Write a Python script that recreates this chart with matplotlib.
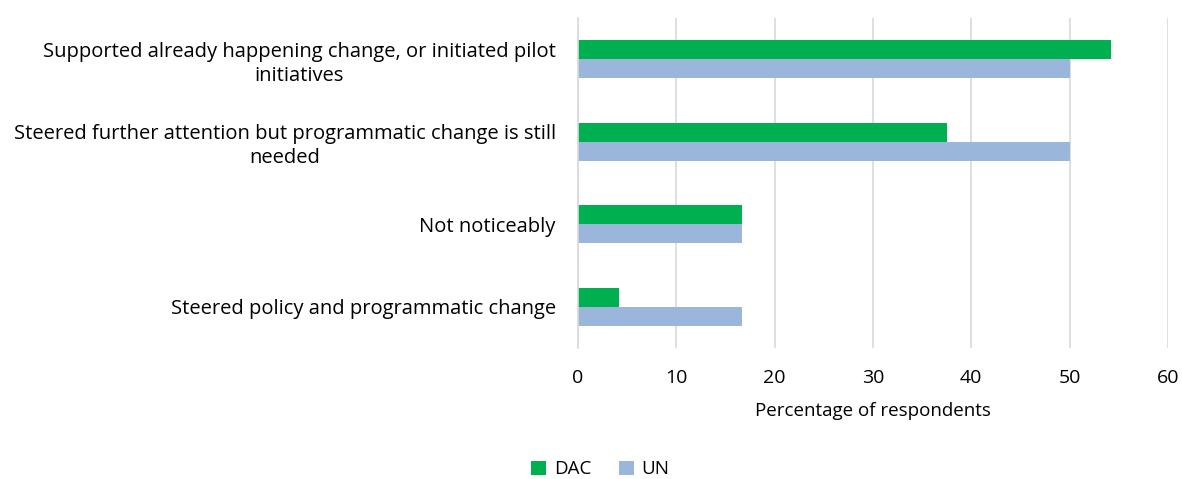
import matplotlib
matplotlib.use("Agg")
import matplotlib.pyplot as plt
import numpy as np

categories = [
    "Supported already happening change, or initiated pilot\ninitiatives",
    "Steered further attention but programmatic change is still\nneeded",
    "Not noticeably",
    "Steered policy and programmatic change",
]
dac = [54.2, 37.5, 16.7, 4.2]
un = [50.0, 50.0, 16.7, 16.7]
x_ticks = [0, 10, 20, 30, 40, 50, 60]

plt.rcParams["font.family"] = ["Open Sans", "DejaVu Sans"]

fig = plt.figure(figsize=(11.82, 4.79), dpi=100)
ax = fig.add_axes([0.489, 0.273, 0.499, 0.689])

n = len(categories)
pos = np.arange(n)
h = 0.23
green = "#00B050"
blue = "#9AB7DB"

ax.barh(pos - h / 2, dac, height=h, color=green, label="DAC", zorder=3)
ax.barh(pos + h / 2, un, height=h, color=blue, label="UN", zorder=3)

ax.set_ylim(n - 0.5, -0.5)
ax.set_xlim(0, 60)
ax.set_xticks(x_ticks)
ax.set_yticks(pos)
ax.set_yticklabels(categories, multialignment="center", fontsize=14.5,
                   linespacing=1.25)
ax.tick_params(axis="x", labelsize=14, length=0, pad=15)
ax.tick_params(axis="y", length=0, pad=16)
ax.grid(axis="x", color="#D9D9D9", linewidth=1.2, zorder=0)
for s in ["top", "right", "bottom"]:
    ax.spines[s].set_visible(False)
ax.spines["left"].set_color("#D9D9D9")
ax.spines["left"].set_linewidth(1.2)
ax.spines["left"].set_zorder(4)

ax.set_xlabel("Percentage of respondents", fontsize=13.5, labelpad=11)

fig.legend(loc="center", bbox_to_anchor=(0.508, 0.02), ncol=2, frameon=False,
           fontsize=13.5, handlelength=0.8, handleheight=0.8, columnspacing=1.5,
           handletextpad=0.4)

fig.savefig("out.png", dpi=100)
